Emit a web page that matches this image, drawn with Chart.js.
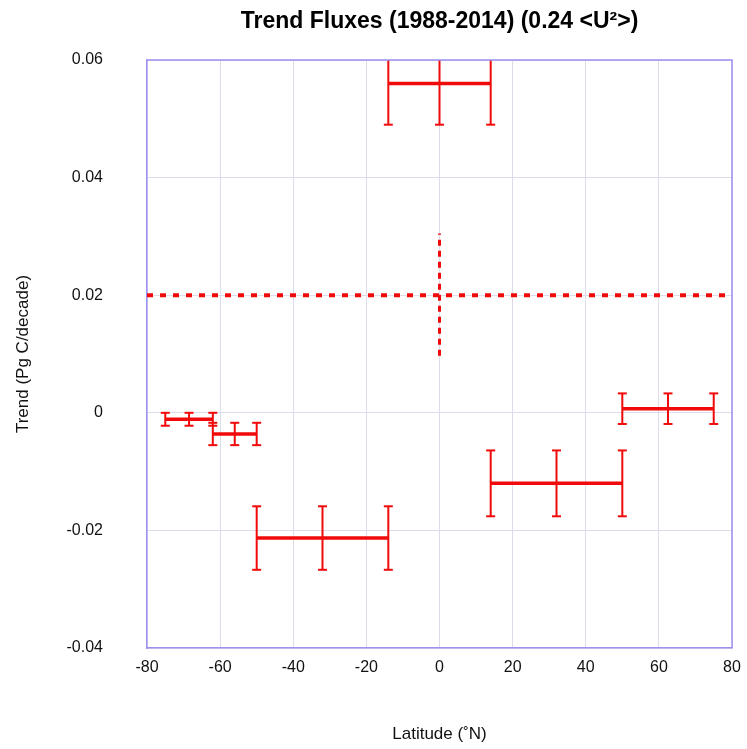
<!DOCTYPE html>
<html>
<head>
<meta charset="utf-8">
<script src="https://cdn.jsdelivr.net/npm/chart.js@4.4.1/dist/chart.umd.min.js"></script>
<style>
  html, body { margin: 0; padding: 0; background: #fff; }
  #wrap { width: 747px; height: 749px; }
</style>
</head>
<body>
<div id="wrap"><canvas id="chart"></canvas></div>
<script>
// Latitude bands (degrees N) and their trend +/- uncertainty (Pg C/decade)
const bandStart = [-75, -62, -50, -14, 14, 50];
const bandEnd   = [-62, -50, -14, 14, 50, 75];
const trend     = [-0.0011, -0.0036, -0.0213, 0.056, -0.012, 0.0007];
const trendErr  = [0.0011, 0.0019, 0.0054, 0.007, 0.0056, 0.0026];

// Global mean trend (dashed cross) and its range
const meanTrend = [0.02];
const meanRange = [0.0097, 0.0305];
const meanLat   = [0];

// Axis ticks
const xTicks = [-80, -60, -40, -20, 0, 20, 40, 60, 80];
const yTicks = [-0.04, -0.02, 0, 0.02, 0.04, 0.06];
const yTickLabels = ["-0.04", "-0.02", "0", "0.02", "0.04", "0.06"];

const TITLE = "Trend Fluxes (1988-2014) (0.24 <U\u00b2>)";
const RED = "#f00a0a";
const FRAME = "#9c90f0";
const datasets = [];

// horizontal bar of each band
bandStart.forEach((s, i) => {
    datasets.push({
        data: [{ x: s, y: trend[i] }, { x: bandEnd[i], y: trend[i] }],
        borderColor: RED, borderWidth: 3.5, pointRadius: 0, showLine: true
    });
});

// error bars at the start, middle and end of each band
const errPts = [];
bandStart.forEach((s, i) => {
    const e = bandEnd[i];
    [s, (s + e) / 2, e].forEach(lat => {
        errPts.push({ x: lat, y: trend[i] - trendErr[i] });
        errPts.push({ x: lat, y: trend[i] + trendErr[i] });
        errPts.push({ x: lat, y: null });
    });
});
datasets.push({
    data: errPts, borderColor: RED, borderWidth: 2, showLine: true, spanGaps: false,
    pointStyle: "line", pointRadius: 4.5, pointBorderWidth: 2, pointBorderColor: RED
});

// dashed mean line across all latitudes + its vertical range
datasets.push({
    data: [{ x: xTicks[0], y: meanTrend[0] }, { x: xTicks[xTicks.length - 1], y: meanTrend[0] }],
    borderColor: RED, borderWidth: 4, borderDash: [6, 7], pointRadius: 0, showLine: true
});
datasets.push({
    data: [{ x: meanLat[0], y: meanRange[0] }, { x: meanLat[0], y: meanRange[1] }],
    borderColor: RED, borderWidth: 3, borderDash: [6, 5], pointRadius: 0, showLine: true
});

const fontFam = "'Liberation Sans', Arial, sans-serif";

new Chart(document.getElementById("chart"), {
    type: "scatter",
    data: { datasets },
    options: {
        responsive: true,
        maintainAspectRatio: false,
        animation: false,
        layout: { padding: { left: 0, right: 15, top: 60, bottom: 0 } },
        plugins: {
            legend: { display: false },
            tooltip: { enabled: false },
            title: { display: false }
        },
        scales: {
            x: {
                type: "linear", min: -80, max: 80,
                afterBuildTicks: s => { s.ticks = xTicks.map(v => ({ value: v })); },
                afterFit: s => { s.height = 101; s.paddingLeft = 0; s.paddingRight = 0; },
                grid: { color: "#dcdcec", drawTicks: false },
                border: { color: FRAME, width: 1.5 },
                ticks: { color: "#111", padding: 10, font: { family: fontFam, size: 16 } },
                title: {
                    display: true, text: "Latitude (\u02daN)", color: "#111",
                    font: { family: fontFam, size: 17 }, padding: { top: 0, bottom: 4 }
                }
            },
            y: {
                type: "linear", min: -0.04, max: 0.06,
                afterBuildTicks: s => { s.ticks = yTicks.map(v => ({ value: v })); },
                afterFit: s => { s.width = 147; },
                grid: { color: "#dcdcec", drawTicks: false },
                border: { color: FRAME, width: 1.5 },
                ticks: {
                    color: "#111", padding: 44, font: { family: fontFam, size: 16 },
                    callback: v => yTickLabels[yTicks.indexOf(v)] ?? ""
                },
                title: {
                    display: true, text: "Trend (Pg C/decade)", color: "#111",
                    font: { family: fontFam, size: 17 }, padding: { top: 13, bottom: 0 }
                }
            }
        }
    },
    plugins: [{
        // plot frame (top/right) and title centred over the plot area
        id: "frameAndTitle",
        afterDraw(chart) {
            const { ctx, chartArea: a } = chart;
            ctx.save();
            ctx.strokeStyle = FRAME;
            ctx.lineWidth = 1.5;
            ctx.beginPath();
            ctx.moveTo(a.left, a.top);
            ctx.lineTo(a.right, a.top);
            ctx.lineTo(a.right, a.bottom);
            ctx.stroke();

            ctx.fillStyle = "#000";
            ctx.font = "bold 23px " + fontFam;
            ctx.textAlign = "center";
            ctx.textBaseline = "middle";
            ctx.fillText(TITLE, (a.left + a.right) / 2, 22);
            ctx.restore();
        }
    }]
});
</script>
</body>
</html>
